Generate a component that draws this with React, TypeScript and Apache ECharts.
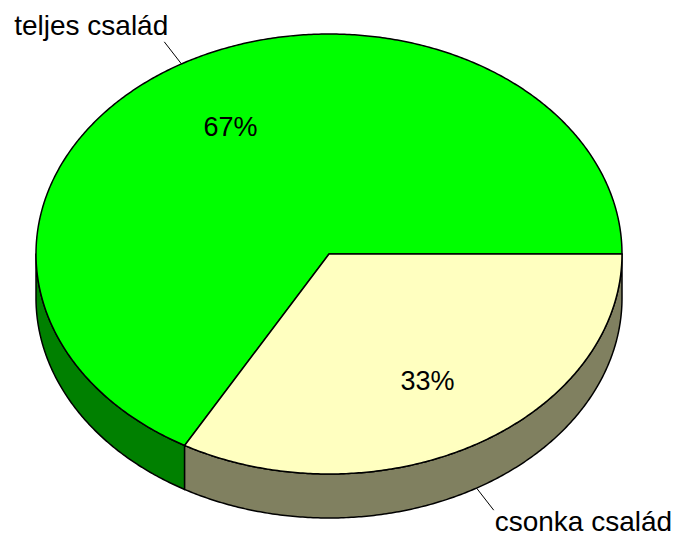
import React, { useEffect, useRef } from 'react';
import * as echarts from 'echarts';

const categories = ['teljes család', 'csonka család'];
const values = [66.8, 33.2];
const topColors = ['#00FF00', '#FFFFC0'];
const sideColors = ['#008000', '#808060'];

export default function App() {
  const ref = useRef<HTMLDivElement>(null);
  useEffect(() => {
    const chart = echarts.init(ref.current!, null, { renderer: 'svg' });
    const total = values.reduce((a, b) => a + b, 0);
    const cx = 329, cy = 254, rx = 293, ry = 220, depth = 44;
    const font = 'Liberation Sans, Arial, sans-serif';
    const fsIn = 27;
    const fsOut = 28;
    const starts: number[] = [];
    let acc = 0;
    values.forEach((v) => { starts.push((acc / total) * 360); acc += v; });

    const pt = (a: number, dy = 0, k = 1): number[] => {
      const r = (a * Math.PI) / 180;
      return [cx + k * rx * Math.cos(r), cy - k * ry * Math.sin(r) + dy];
    };
    const arcPts = (a1: number, a2: number, dy = 0): number[][] => {
      const n = Math.max(2, Math.ceil(Math.abs(a2 - a1) / 0.5));
      const out: number[][] = [];
      for (let i = 0; i <= n; i++) out.push(pt(a1 + ((a2 - a1) * i) / n, dy));
      return out;
    };

    const renderItem = (params: any, api: any) => {
      const i = params.dataIndex;
      const v = api.value(0);
      const a1 = starts[i];
      const a2 = a1 + (v / total) * 360;
      const children: any[] = [];
      const w1 = Math.max(a1, 180), w2 = Math.min(a2, 360);
      if (w2 > w1) {
        const top = arcPts(w1, w2);
        const bottom = arcPts(w2, w1, depth);
        children.push({
          type: 'polygon',
          shape: { points: top.concat(bottom) },
          style: { fill: sideColors[i], stroke: '#000', lineWidth: 1.5, lineJoin: 'round' },
        });
      }
      const face = [[cx, cy]].concat(arcPts(a1, a2));
      children.push({
        type: 'polygon',
        shape: { points: face },
        style: { fill: topColors[i], stroke: '#000', lineWidth: 1.5, lineJoin: 'round' },
      });
      const mid = (a1 + a2) / 2;
      const lp = pt(mid, 0, 0.667);
      children.push({
        type: 'text',
        style: {
          text: Math.round((v / total) * 100) + '%',
          x: lp[0], y: lp[1],
          align: 'center', verticalAlign: 'middle',
          fill: '#000', fontSize: fsIn, fontFamily: font,
        },
      });
      const mr = (mid * Math.PI) / 180;
      const upper = Math.sin(mr) > 0;
      const start = pt(mid, upper ? 0 : depth);
      let dx = rx * Math.cos(mr), dy = -ry * Math.sin(mr);
      const len = Math.hypot(dx, dy);
      dx = (dx / len) * 28; dy = (dy / len) * 28;
      const end = [start[0] + dx, start[1] + dy];
      children.push({
        type: 'line',
        shape: { x1: start[0], y1: start[1], x2: end[0], y2: end[1] },
        style: { stroke: '#000', lineWidth: 1 },
      });
      const right = Math.cos(mr) > 0;
      children.push({
        type: 'text',
        style: {
          text: categories[i],
          x: end[0] + (right ? 1 : 4),
          y: end[1] + (upper ? -16.5 : 11),
          align: right ? 'left' : 'right', verticalAlign: 'middle',
          lineHeight: 28,
          fill: '#000', fontSize: fsOut, fontFamily: font,
        },
      });
      return { type: 'group', children };
    };

    chart.setOption({
      animation: false,
      backgroundColor: '#ffffff',
      series: [
        {
          type: 'custom',
          coordinateSystem: 'none',
          silent: true,
          renderItem,
          data: values.map((v, i) => ({ value: [v], name: categories[i] })),
        },
      ],
    });
    return () => chart.dispose();
  }, []);
  return <div ref={ref} style={{ position: 'fixed', left: 0, top: 0, width: 675, height: 537 }} />;
}
